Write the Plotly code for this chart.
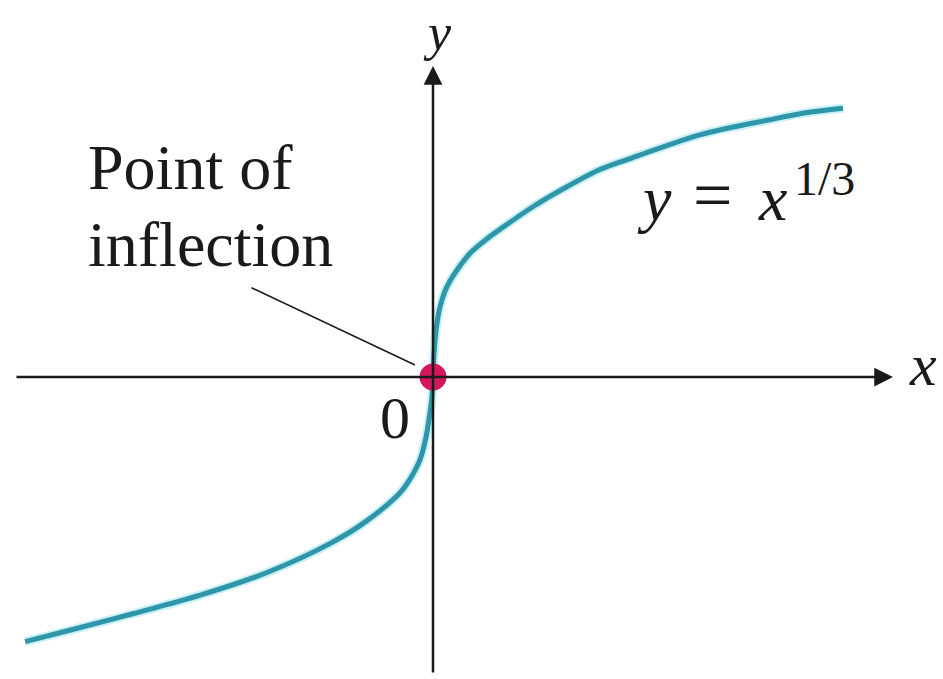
import plotly.graph_objects as go

W, H = 943, 679

# Curve y = x^(1/3) (left branch, then right branch)
left_x = [-7.92, -7.11, -5.83, -4.52, -3.22, -1.94, -1.28, -0.64, -0.45, -0.25, -0.14, -0.06, -0.02, 0.0]
left_y = [-1.99, -1.91, -1.78, -1.64, -1.47, -1.24, -1.08, -0.87, -0.77, -0.62, -0.46, -0.27, -0.15, 0.0]
right_x = [0.02, 0.05, 0.12, 0.19, 0.26, 0.39, 0.72, 1.05, 1.30, 1.94, 2.60, 3.24, 3.88, 4.54, 5.18, 5.83, 6.49, 7.13, 7.96]
right_y = [0.17, 0.32, 0.50, 0.60, 0.67, 0.76, 0.93, 1.04, 1.11, 1.28, 1.43, 1.56, 1.65, 1.74, 1.82, 1.88, 1.93, 1.98, 2.02]

inflection_x = [0.0]
inflection_y = [0.0]

point_label_1 = "Point of"
point_label_2 = "inflection"
origin_label = "0"
x_label = "<i>x</i>"
y_label = "<i>y</i>"
eq_lhs = "<i>y</i>"
eq_sign = "="
eq_base = "<i>x</i>"
eq_exp = "1/3"

curve_x = left_x + right_x
curve_y = left_y + right_y

# layout geometry (pixels of the picture)
OX, OY = 433, 377          # origin in pixels
SX, SY = 51.5, 133.0       # pixels per unit

def P(px, py):
    return px / W, 1 - py / H

FONT = "Liberation Serif, Times New Roman, serif"
INK = "#1a1a1a"

fig = go.Figure()

fig.add_trace(go.Scatter(
    x=curve_x, y=curve_y, mode="lines",
    line=dict(color="#c8f0f6", width=9, shape="spline", smoothing=1.0),
    hoverinfo="skip", showlegend=False))
fig.add_trace(go.Scatter(
    x=curve_x, y=curve_y, mode="lines",
    line=dict(color="#2f95a8", width=5, shape="spline", smoothing=1.0),
    showlegend=False))
fig.add_trace(go.Scatter(
    x=inflection_x, y=inflection_y, mode="markers",
    marker=dict(color="#d4165c", size=27, line=dict(width=0)),
    showlegend=False))

annotations = []
# x axis arrow
tx, ty = P(893, OY)
annotations.append(dict(x=tx, y=ty, xref="paper", yref="paper", ax=15 - 893, ay=0,
                        axref="pixel", ayref="pixel", text="", showarrow=True,
                        arrowhead=2, arrowsize=1.5, arrowwidth=2.5, arrowcolor=INK, standoff=0))
# y axis arrow
tx, ty = P(OX, 66)
annotations.append(dict(x=tx, y=ty, xref="paper", yref="paper", ax=0, ay=674 - 66,
                        axref="pixel", ayref="pixel", text="", showarrow=True,
                        arrowhead=2, arrowsize=1.5, arrowwidth=2.5, arrowcolor=INK, standoff=0))
# leader line
tx, ty = P(415, 365)
annotations.append(dict(x=tx, y=ty, xref="paper", yref="paper", ax=250 - 415, ay=287 - 365,
                        axref="pixel", ayref="pixel", text="", showarrow=True,
                        arrowhead=0, arrowwidth=1.5, arrowcolor=INK, standoff=0))

def label(text, px, py, xanchor="center", size=60):
    x, y = P(px, py)
    annotations.append(dict(x=x, y=y, xref="paper", yref="paper", text=text, showarrow=False,
                            xanchor=xanchor, yanchor="middle",
                            font=dict(family=FONT, size=size, color=INK)))

label(point_label_1, 86, 167, xanchor="left", size=64)
label(point_label_2, 86, 244, xanchor="left", size=64)
label(origin_label, 395, 418, size=60)
label(x_label, 923, 365, size=60)
label(y_label, 437, 32, size=52)
label(eq_lhs, 654, 198, size=64)
label(eq_sign, 712, 196, size=70)
label(eq_base, 772, 198, size=64)
label(eq_exp, 824, 179, size=48)

fig.update_layout(
    width=W, height=H,
    margin=dict(l=0, r=0, t=0, b=0),
    paper_bgcolor="white", plot_bgcolor="white",
    xaxis=dict(range=[-OX / SX, (W - OX) / SX], visible=False, fixedrange=True),
    yaxis=dict(range=[-(H - OY) / SY, OY / SY], visible=False, fixedrange=True),
    annotations=annotations,
    showlegend=False,
)

fig.write_html("out.html", config={"displayModeBar": False},
               post_script="document.body.style.margin='0';document.body.style.overflow='hidden';")
